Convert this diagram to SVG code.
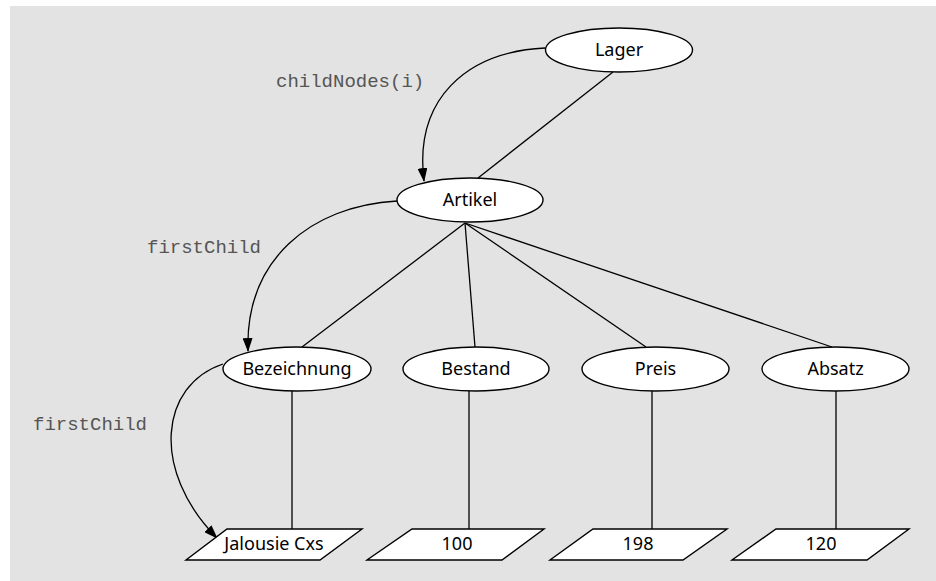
<svg xmlns="http://www.w3.org/2000/svg" width="936" height="581" viewBox="0 0 936 581">
<style>
.node ellipse, .node polygon { fill: #fff; stroke: #000; stroke-width: 1.4; }
.node text { font-family: "Noto Sans", "Open Sans", sans-serif; font-size: 18px; fill: #000; text-anchor: middle; }
.edges line, .edges path { stroke: #000; stroke-width: 1.3; fill: none; }
.lbl { font-family: "Liberation Mono", "DejaVu Sans Mono", monospace; font-size: 19px; fill: #555; }
</style>
<defs>
<marker id="arr" markerUnits="userSpaceOnUse" markerWidth="14" markerHeight="10" viewBox="0 0 14 10" refX="13" refY="5" orient="auto">
<path d="M0,0 L14,5 L0,10 Z" fill="#000"/>
</marker>
</defs>
<rect x="10" y="6" width="926" height="575" fill="#e3e3e3"/>
<g class="edges" id="connectors">
<line x1="613" y1="72" x2="478" y2="178"/>
<line x1="465" y1="223" x2="302" y2="347"/>
<line x1="465" y1="223" x2="475" y2="347"/>
<line x1="465" y1="223" x2="646" y2="347"/>
<line x1="465" y1="223" x2="832" y2="347"/>
<line x1="292" y1="391" x2="292" y2="529"/>
<line x1="469" y1="391" x2="469" y2="529"/>
<line x1="652" y1="391" x2="652" y2="529"/>
<line x1="836" y1="391" x2="836" y2="529"/>
<path d="M545,48 C465,52 414,100 424,181" marker-end="url(#arr)"/>
<path d="M397,201 C310,206 245,260 248,351" marker-end="url(#arr)"/>
<path d="M223,364 C160,385 150,470 217,538" marker-end="url(#arr)"/>
</g>
<g id="labels">
<text class="lbl" x="276" y="87">childNodes(i)</text>
<text class="lbl" x="147" y="253">firstChild</text>
<text class="lbl" x="33" y="430">firstChild</text>
</g>
<g class="node" id="lager"><ellipse cx="619" cy="50" rx="73.5" ry="22"/><text x="619" y="56">Lager</text></g>
<g class="node" id="artikel"><ellipse cx="470" cy="200" rx="73" ry="22"/><text x="470" y="206">Artikel</text></g>
<g class="node" id="bezeichnung"><ellipse cx="297" cy="369" rx="74" ry="22"/><text x="297" y="375">Bezeichnung</text></g>
<g class="node" id="bestand"><ellipse cx="476" cy="369" rx="73" ry="22"/><text x="476" y="375">Bestand</text></g>
<g class="node" id="preis"><ellipse cx="655.5" cy="369" rx="73.5" ry="22"/><text x="655.5" y="375">Preis</text></g>
<g class="node" id="absatz"><ellipse cx="835.5" cy="369" rx="73.5" ry="22"/><text x="835.5" y="375">Absatz</text></g>
<g class="node" id="jalousie"><polygon points="227,529 362,529 320,560 186,560"/><text x="274" y="550">Jalousie Cxs</text></g>
<g class="node" id="v100"><polygon points="412,529 544,529 502,560 367,560"/><text x="457" y="550">100</text></g>
<g class="node" id="v198"><polygon points="593,529 727,529 683,560 550,560"/><text x="638" y="550">198</text></g>
<g class="node" id="v120"><polygon points="776,529 909,529 867,560 732,560"/><text x="821" y="550">120</text></g>
</svg>
